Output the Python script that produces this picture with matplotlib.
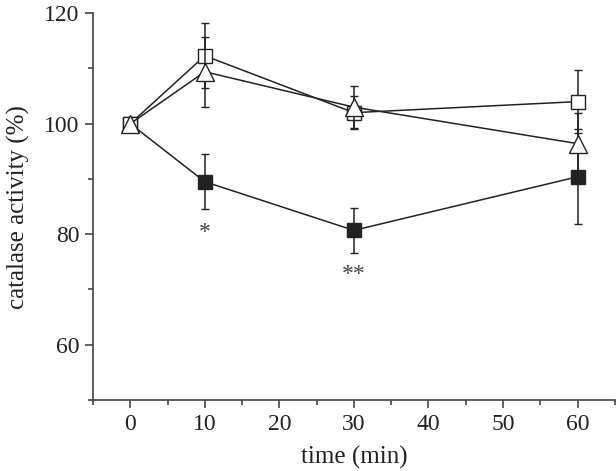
import matplotlib
matplotlib.use("Agg")
import matplotlib.pyplot as plt
from matplotlib.ticker import MultipleLocator

plt.rcParams['font.family'] = ['Liberation Serif', 'DejaVu Serif']

time = [0, 10, 30, 60]
open_sq = [100, 112.3, 102.0, 104.0]
open_sq_err = [0, 5.9, 3.0, 5.7]
open_tri = [100, 109.4, 103.0, 96.4]
open_tri_err = [0, 6.3, 3.8, 5.6]
filled_sq = [100, 89.5, 80.7, 90.4]
filled_sq_err = [0, 5.0, 4.1, 8.6]
sig_x = [10, 30]
sig_y = [80.4, 72.8]
sig_labels = ['*', '**']

ink = '#222222'
fig = plt.figure(figsize=(6.16, 4.71), dpi=100)
ax = fig.add_axes([0.151, 0.1507, 0.847, 0.8213])

common = dict(color=ink, lw=1.1, capsize=2.6, elinewidth=1.1, capthick=1.1)
ax.errorbar(time, filled_sq, yerr=filled_sq_err, marker='s', ms=10.5,
            mfc=ink, mec=ink, mew=1.0, zorder=3, **common)
ax.errorbar(time, open_sq, yerr=open_sq_err, marker='s', ms=10.5,
            mfc='white', mec=ink, mew=1.0, zorder=4, **common)
ax.errorbar(time, open_tri, yerr=open_tri_err, marker='^', ms=13,
            mfc='white', mec=ink, mew=1.0, zorder=5, **common)

for x, y, s in zip(sig_x, sig_y, sig_labels):
    ax.text(x, y, s, ha='center', va='center', fontsize=17, color='#444444')

ax.set_xlim(-5, 65)
ax.set_ylim(50, 120)
ax.xaxis.set_major_locator(MultipleLocator(10))
ax.xaxis.set_minor_locator(MultipleLocator(5))
ax.yaxis.set_major_locator(MultipleLocator(20))
ax.yaxis.set_minor_locator(MultipleLocator(10))
ax.set_yticks([60, 80, 100, 120])

for s in ['top', 'right']:
    ax.spines[s].set_visible(False)
for s in ['left', 'bottom']:
    ax.spines[s].set_color('#444444')
    ax.spines[s].set_linewidth(1.2)

ax.tick_params(which='major', length=6, width=1.2, color='#444444',
               labelsize=17, labelcolor='#222222', pad=4)
ax.tick_params(which='minor', length=3.5, width=1.2, color='#444444')

ax.set_xlabel('time (min)', fontsize=18, color='#222222', labelpad=8)
ax.set_ylabel('catalase activity (%)', fontsize=18, color='#222222', labelpad=10)

fig.savefig('out.png', dpi=100)
